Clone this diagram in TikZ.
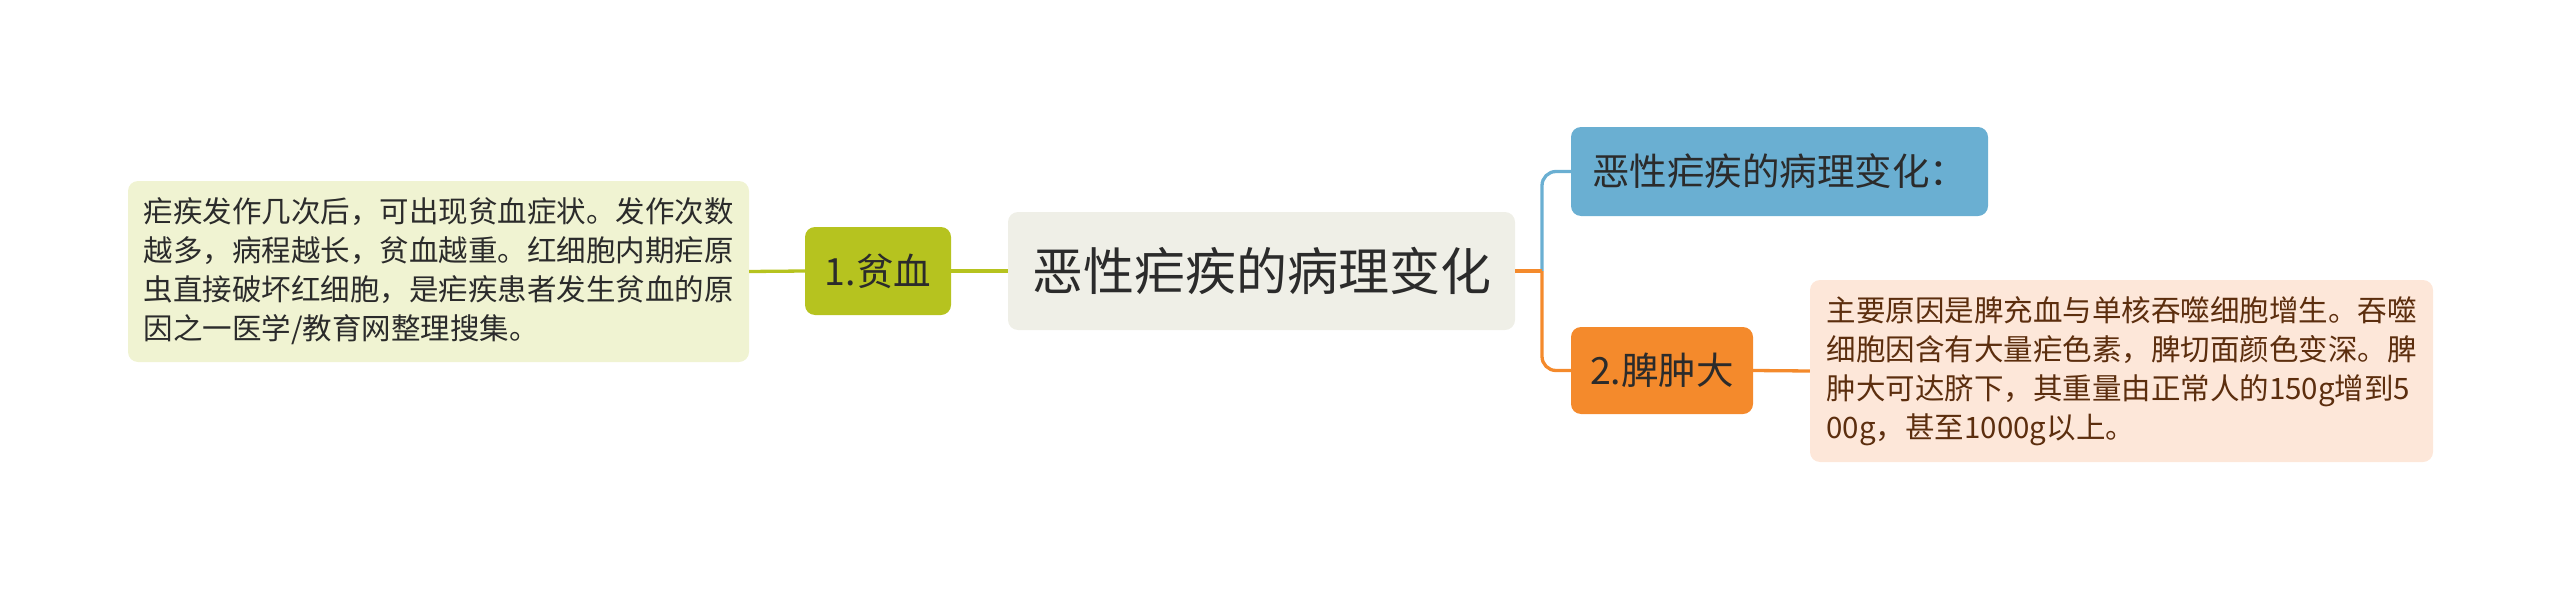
\documentclass[tikz,border=0pt]{standalone}
\usepackage{fontspec}
\setmainfont{Noto Sans CJK SC}
\definecolor{cOlive}{HTML}{B6C31F}
\definecolor{cLeaf}{HTML}{F0F3D2}
\definecolor{cRoot}{HTML}{EFEFE7}
\definecolor{cBlue}{HTML}{6AAFD2}
\definecolor{cOrange}{HTML}{F48A2C}
\definecolor{cPeach}{HTML}{FDE7D9}
\definecolor{cBrown}{HTML}{5C2E0E}
\definecolor{cDark}{HTML}{2B2B2B}
\begin{document}
\begin{tikzpicture}[x=1pt,y=-1pt,
  box/.style={rounded corners=10pt, inner sep=0pt, align=center, draw=none},
  leaftext/.style={align=left, font=\fontsize{29.5}{39}\selectfont},
  branchtext/.style={font=\fontsize{37.5}{42}\selectfont},
  conn/.style={line width=3.3pt},
]
\useasboundingbox (0,0) rectangle (2560,589);
% nodes
\node[box, fill=cLeaf, minimum width=621pt, minimum height=181pt, leaftext, text=cDark] (leafL) at (438.5,271.5)
  {疟疾发作几次后，可出现贫血症状。发作次数\\越多，病程越长，贫血越重。红细胞内期疟原\\虫直接破坏红细胞，是疟疾患者发生贫血的原\\因之一医学/教育网整理搜集。};
\node[box, fill=cOlive, minimum width=146pt, minimum height=88pt, branchtext, text=cDark] (anemia) at (878,271) {1.贫血};
\node[box, fill=cRoot, minimum width=507pt, minimum height=118pt, font=\fontsize{51}{56}\selectfont, text=cDark] (root) at (1261.5,271) {恶性疟疾的病理变化};
\node[box, fill=cBlue, minimum width=417pt, minimum height=89pt, branchtext, text=cDark] (blue) at (1779.5,171.5) {恶性疟疾的病理变化：};
\node[box, fill=cOrange, minimum width=182pt, minimum height=87pt, branchtext, text=cDark] (spleen) at (1662,370.5) {2.脾肿大};
\node[box, fill=cPeach, minimum width=623pt, minimum height=182pt, leaftext, text=cBrown] (leafR) at (2121.5,371)
  {主要原因是脾充血与单核吞噬细胞增生。吞噬\\细胞因含有大量疟色素，脾切面颜色变深。脾\\肿大可达脐下，其重量由正常人的150g增到5\\00g，甚至1000g以上。};
\coordinate (jn) at (1542,271);
% connectors
\draw[conn, cOlive] (leafL.east) -- (anemia.west);
\draw[conn, cOlive] (anemia.east) -- (root.west);
\draw[conn, cBlue, rounded corners=14pt] (jn) |- (blue.west);
\draw[conn, cOrange] (root.east) -- (jn);
\draw[conn, cOrange, rounded corners=14pt] (jn) |- (spleen.west);
\draw[conn, cOrange] (spleen.east) -- (leafR.west);
\end{tikzpicture}
\end{document}
